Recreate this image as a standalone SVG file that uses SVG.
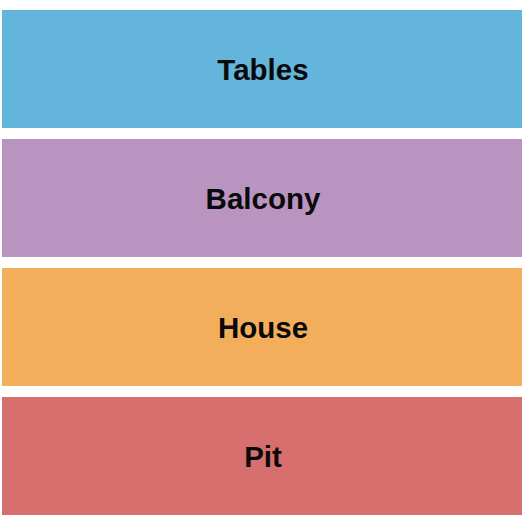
<svg xmlns="http://www.w3.org/2000/svg" width="525" height="525" viewBox="0 0 525 525">
<style>
.s{stroke:none}
.t{font-family:"Liberation Sans",Arial,sans-serif;font-weight:bold;font-size:29.5px;fill:#0a0a0a;text-anchor:middle}
</style>
<rect width="525" height="525" fill="#fff"/>
<g id="tables"><rect class="s" x="2" y="10" width="520" height="118" fill="#64B5DC"/><text class="t" x="263" y="80">Tables</text></g>
<g id="balcony"><rect class="s" x="2" y="139" width="520" height="118" fill="#B994C1"/><text class="t" x="263" y="209">Balcony</text></g>
<g id="house"><rect class="s" x="2" y="268" width="520" height="118" fill="#F3AE5B"/><text class="t" x="263" y="338">House</text></g>
<g id="pit"><rect class="s" x="2" y="397" width="520" height="118" fill="#D86F6F"/><text class="t" x="263" y="467">Pit</text></g>
<g id="connectors"/>
</svg>
